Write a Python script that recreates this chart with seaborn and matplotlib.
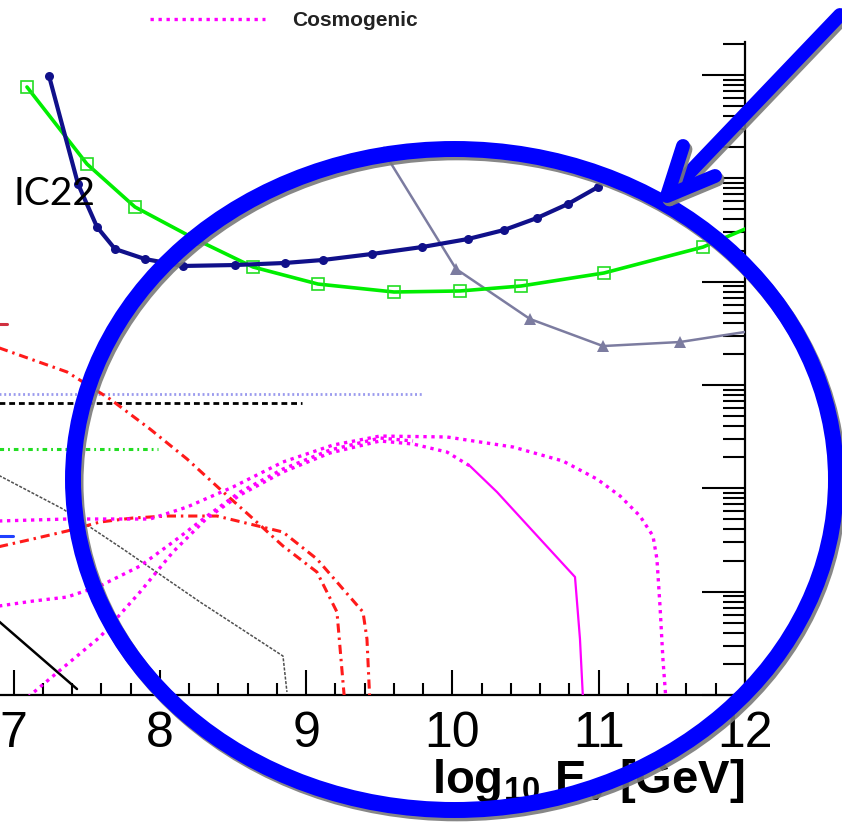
import numpy as np
import matplotlib
matplotlib.use("Agg")
import matplotlib.pyplot as plt
import seaborn as sns
from matplotlib import patheffects as pe
from matplotlib.patches import Ellipse
from matplotlib.ticker import (FixedLocator, LogLocator, MultipleLocator,
                               NullFormatter, FormatStrFormatter)

sns.set_theme(style="white")
plt.rcParams["font.family"] = ["Liberation Sans", "DejaVu Sans"]
plt.rcParams["mathtext.fontset"] = "custom"
plt.rcParams["mathtext.rm"] = "Liberation Sans"
plt.rcParams["mathtext.bf"] = "Liberation Sans:bold"
plt.rcParams["mathtext.it"] = "Liberation Sans:italic"

# ---- data: x = log10(E / GeV), y = log10(E^2 dN/dE) ----
ic22_logE = [7.243, 7.441, 7.571, 7.694, 7.899, 8.159, 8.514, 8.856, 9.116,
             9.450, 9.792, 10.107, 10.353, 10.578, 10.790, 10.995]
ic22_logF = [-3.01, -4.055, -4.471, -4.684, -4.781, -4.848, -4.839, -4.819,
             -4.790, -4.732, -4.665, -4.587, -4.500, -4.384, -4.248, -4.084]

green_logE = [7.092, 7.502, 7.830, 8.241, 8.637, 9.081, 9.601, 10.052,
              10.469, 11.036, 11.713, 12.15]
green_logF = [-3.116, -3.861, -4.277, -4.587, -4.858, -5.023, -5.100, -5.090,
              -5.042, -4.916, -4.665, -4.40]

slate_logE = [9.532, 10.025, 10.530, 11.029, 11.556, 12.10]
slate_logF = [-3.745, -4.877, -5.361, -5.623, -5.584, -5.465]

red1_logE = [6.90, 7.366, 7.660, 7.933, 8.186, 8.411, 8.617, 8.842, 9.074,
             9.211, 9.252, 9.266]
red1_logF = [-5.64, -5.874, -6.136, -6.426, -6.716, -7.007, -7.268, -7.558,
             -7.810, -8.197, -8.874, -9.10]

red2_logE = [6.90, 7.133, 7.366, 7.591, 7.817, 8.049, 8.391, 8.842, 9.074,
             9.389, 9.416, 9.437]
red2_logF = [-7.565, -7.490, -7.413, -7.326, -7.287, -7.268, -7.268, -7.423,
             -7.684, -8.197, -8.458, -9.10]

red_stub_logE = [6.90, 6.955]
red_stub_logF = [-5.41, -5.41]

blue_stub_logE = [6.90, 6.997]
blue_stub_logF = [-7.461, -7.461]

lavender_logE = [6.90, 9.80]
lavender_logF = [-6.087, -6.087]

black_dash_logE = [6.90, 8.97]
black_dash_logF = [-6.174, -6.174]

green_dd_logE = [6.90, 7.99]
green_dd_logF = [-6.619, -6.619]

thin_logE = [6.90, 7.338, 7.748, 8.275, 8.842, 8.869]
thin_logF = [-6.875, -7.200, -7.587, -8.100, -8.623, -8.971]

black_solid_logE = [6.90, 7.434]
black_solid_logF = [-8.287, -8.942]

cosmoA_logE = [6.90, 7.366, 7.933, 8.186, 8.500, 8.842, 9.184, 9.505, 9.963,
               10.414, 10.756, 10.988, 11.146, 11.282, 11.371, 11.398, 11.419,
               11.439, 11.46]
cosmoA_logF = [-7.316, -7.297, -7.297, -7.181, -6.987, -6.745, -6.581, -6.494,
               -6.503, -6.600, -6.736, -6.910, -7.074, -7.268, -7.461, -7.684,
               -8.139, -8.652, -9.05]

cosmoB_logE = [6.90, 7.133, 7.366, 7.591, 7.865, 8.090, 8.323, 8.548, 8.842,
               9.163, 9.505, 9.731]
cosmoB_logF = [-8.139, -8.091, -8.052, -7.945, -7.752, -7.520, -7.268, -7.036,
               -6.813, -6.629, -6.513, -6.542]

cosmoC_logE = [7.099, 7.434, 7.591, 7.865, 8.090, 8.323, 8.548, 8.842, 9.163,
               9.505, 9.731, 9.963, 10.120]
cosmoC_logF = [-9.02, -8.623, -8.439, -8.003, -7.616, -7.287, -7.065, -6.842,
               -6.658, -6.542, -6.571, -6.649, -6.784]

cosmo_solid_logE = [10.120, 10.305, 10.599, 10.838, 10.872, 10.893]
cosmo_solid_logF = [-6.784, -7.036, -7.490, -7.858, -8.458, -9.05]

x_ticks = [7, 8, 9, 10, 11, 12]
y_major = [1e-9, 1e-8, 1e-7, 1e-6, 1e-5, 1e-3]
legend_labels = ["Cosmogenic"]
curve_label = "IC22"

# ---- figure ----
W, H = 842, 829
fig = plt.figure(figsize=(W / 100, H / 100), dpi=100)
fig.patch.set_facecolor("white")
ax = fig.add_axes([0, 133 / H, 745 / W, 653 / H])
ax.set_facecolor("white")
ax.set_yscale("log")
ax.set_xlim(7 - 13.5 / 146.3, 12.0)
ax.set_ylim(1e-9, 10 ** (-3 + 33 / 103.33))


def trace(xs, ys, **kw):
    sns.lineplot(x=np.asarray(xs, float), y=10.0 ** np.asarray(ys, float),
                 ax=ax, estimator=None, sort=False, legend=False, **kw)


MAG = "#ff00ff"
RED = "#ff1a1a"

trace(thin_logE, thin_logF, color="#505050", lw=1.1, linestyle=(0, (2, 1)), zorder=2)
trace(black_solid_logE, black_solid_logF, color="black", lw=1.8, zorder=2)
trace(lavender_logE, lavender_logF, color="#9a9aee", lw=2.0, linestyle=(0, (0.7, 1.0)), zorder=2)
trace(black_dash_logE, black_dash_logF, color="black", lw=2.0, linestyle=(0, (2.1, 1.4)), zorder=2)
trace(green_dd_logE, green_dd_logF, color="#22dd22", lw=2.2, linestyle=(0, (1.5, 1.3, 0.6, 1.3)), zorder=2)
trace(red_stub_logE, red_stub_logF, color="#d03040", lw=2.2, zorder=2)
trace(blue_stub_logE, blue_stub_logF, color="#2040ff", lw=2.2, zorder=2)

trace(red1_logE, red1_logF, color=RED, lw=2.2, linestyle=(0, (3, 1.6, 0.8, 1.6)), zorder=3)
trace(red2_logE, red2_logF, color=RED, lw=2.2, linestyle=(0, (3, 1.6, 0.8, 1.6)), zorder=3)

for xs, ys in [(cosmoA_logE, cosmoA_logF), (cosmoB_logE, cosmoB_logF),
               (cosmoC_logE, cosmoC_logF)]:
    trace(xs, ys, color=MAG, lw=2.4, linestyle=(0, (1.0, 1.4)), zorder=3)
trace(cosmo_solid_logE, cosmo_solid_logF, color=MAG, lw=1.6, zorder=3)

trace(slate_logE, slate_logF, color="#7c7ca0", lw=1.8, marker="^",
      markersize=9, mec="#7c7ca0", mew=0, zorder=4)
trace(green_logE, green_logF, color="#00ee00", lw=2.6, marker="s",
      markersize=8, mfc="none", mec="#22dd22", mew=1.2, zorder=5)
trace(ic22_logE, ic22_logF, color="#10108a", lw=3.0, marker="o",
      markersize=6.5, mec="#10108a", mew=0, zorder=6)

ax.text(7.0, 10 ** -4.25, curve_label, fontfamily=["Lato", "DejaVu Sans"],
        fontsize=28, ha="left", va="baseline", color="black", zorder=7)

# ---- axes styling ----
for side in ("left", "top"):
    ax.spines[side].set_visible(False)
for side in ("bottom", "right"):
    ax.spines[side].set_visible(True)
    ax.spines[side].set_color("black")
    ax.spines[side].set_linewidth(1.6)

ax.yaxis.tick_right()
ax.yaxis.set_major_locator(FixedLocator(y_major))
ax.yaxis.set_minor_locator(LogLocator(base=10, subs=np.arange(1, 10), numticks=100))
ax.yaxis.set_major_formatter(NullFormatter())
ax.yaxis.set_minor_formatter(NullFormatter())
ax.tick_params(axis="y", which="major", direction="in", length=31, width=1.5,
               color="black", right=True, left=False)
ax.tick_params(axis="y", which="minor", direction="in", length=16, width=1.5,
               color="black", right=True, left=False)

ax.xaxis.set_major_locator(FixedLocator(x_ticks))
ax.xaxis.set_minor_locator(MultipleLocator(0.2))
ax.xaxis.set_major_formatter(FormatStrFormatter("%d"))
ax.tick_params(axis="x", which="major", direction="in", length=18, width=1.5,
               color="black", labelsize=36, pad=11, labelcolor="black",
               bottom=True, top=False)
ax.tick_params(axis="x", which="minor", direction="in", length=9, width=1.5,
               color="black", bottom=True, top=False)
ax.set_ylabel("")
ax.set_xlabel(r"$\mathbf{log}_{\mathbf{10}}\ \mathbf{E}_{\mathbf{\nu}}\ \mathbf{[GeV]}$",
              fontsize=34, loc="right", labelpad=0, color="black")
ax.grid(False)

# ---- overlay: legend entry and hand-drawn highlight ----
ov = fig.add_axes([0, 0, 1, 1], zorder=10)
ov.set_xlim(0, W)
ov.set_ylim(H, 0)
ov.axis("off")
ov.patch.set_alpha(0)

ov.plot([150, 265], [20, 20], color=MAG, lw=2.4, linestyle=(0, (1.0, 1.4)))
ov.text(292, 20, legend_labels[0], fontsize=15, fontweight="bold",
        ha="left", va="center", color="#222222")

shadow = [pe.SimpleLineShadow(offset=(1.8, -2.4), shadow_color="#7a7a7a", alpha=0.9),
          pe.Normal()]
ov.add_patch(Ellipse((454.5, 480.5), 763, 661, fill=False, ec="#0000ff",
                     lw=11.5, path_effects=shadow))
ov.plot([840, 667], [16, 197], color="#0000ff", lw=10, solid_capstyle="round",
        path_effects=shadow)
ov.plot([683, 667, 715], [147, 197, 177], color="#0000ff", lw=10,
        solid_capstyle="round", solid_joinstyle="round", path_effects=shadow)

fig.savefig("out.png", dpi=100, facecolor="white")
